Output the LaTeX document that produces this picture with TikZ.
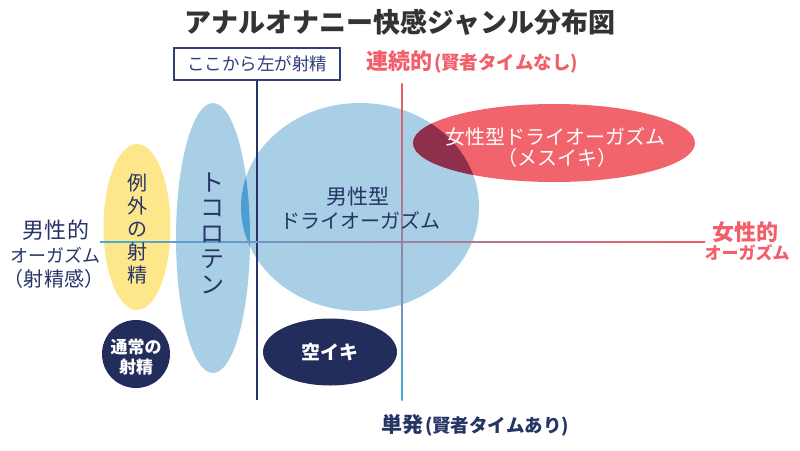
\documentclass[tikz,border=0pt]{standalone}
\usepackage{fontspec}
\setmainfont{Noto Sans CJK JP}
\usetikzlibrary{shapes.geometric}
\definecolor{navy}{HTML}{263466}
\definecolor{boxnavy}{HTML}{2E3D7C}
\definecolor{darknavy}{HTML}{232D5C}
\definecolor{ttlgray}{HTML}{333333}
\definecolor{yel}{HTML}{FDE78A}
\definecolor{lblue}{HTML}{A8CFE5}
\definecolor{blueov}{HTML}{4C9FD0}
\definecolor{redell}{HTML}{F1646C}
\definecolor{redov}{HTML}{8E2F4C}
\definecolor{redtxt}{HTML}{F25E6A}
\definecolor{lineblue}{HTML}{42ADE2}
\definecolor{linered}{HTML}{EE5A66}
\tikzset{
  blob/.style={ellipse, inner sep=0pt, outer sep=0pt},
  lbl/.style={inner sep=0pt, outer sep=0pt, align=center},
}
\newcommand{\fs}[1]{\fontsize{#1}{#1}\selectfont}
\newcommand{\pl}{\hspace{2pt}(}
\newcommand{\pr}{)\hspace{2pt}}
\begin{document}
\begin{tikzpicture}[x=1pt,y=-1pt]
\useasboundingbox (0,0) rectangle (800,450);
\fill[white] (0,0) rectangle (800,450);

% shapes
\node[blob, fill=lblue, minimum width=74pt, minimum height=270pt] (toko) at (213,238) {};
\node[blob, fill=lblue, minimum width=238pt, minimum height=208pt] (male) at (360,207) {};
\begin{scope}
  \clip (213,238) ellipse (37 and 135);
  \fill[blueov] (360,207) ellipse (119 and 104);
\end{scope}
\node[blob, fill=yel, minimum width=67pt, minimum height=166pt] (rei) at (137,227) {};
\node[blob, fill=redell, minimum width=282pt, minimum height=78pt] (female) at (554,143) {};
\begin{scope}
  \clip (554,143) ellipse (141 and 39);
  \fill[redov] (360,207) ellipse (119 and 104);
\end{scope}
\node[circle, fill=darknavy, minimum size=68pt, inner sep=0pt] (tsujo) at (136,354) {};
\node[blob, fill=darknavy, minimum width=134pt, minimum height=67pt] (kara) at (330,352) {};

% title and box
\node[lbl, font=\fs{27}\bfseries, text=ttlgray] (title) at (400,22) {アナルオナニー快感ジャンル分布図};
\node[draw=boxnavy, line width=1.5pt, minimum width=166pt, minimum height=32pt, inner sep=0pt, text=boxnavy, font=\fs{17.5}] (box) at (257,64) {ここから左が射精};

% axes
\coordinate (vbot) at (257,400);
\draw[navy, line width=1.3pt] (box.south) -- (vbot);
\coordinate (rtop) at (402,83);
\coordinate (rbot) at (402,400);
\shade[top color=linered, bottom color=lineblue] ([xshift=-0.65pt]rtop) rectangle ([xshift=0.65pt]rbot);
\coordinate (hl) at (100,242);
\coordinate (hr) at (705,242);
\shade[left color=lineblue, right color=linered] ([yshift=0.65pt]hl) rectangle ([yshift=-0.65pt]hr);

% axis labels
\node[lbl, text=redtxt, font=\bfseries] (cont) at (473,62) {{\fs{22}連続的}{\fs{18.5}\pl 賢者タイムなし\pr}};
\node[lbl, text=navy, font=\bfseries] (single) at (476,425) {{\fs{21}単発}{\fs{18.5}\pl 賢者タイムあり\pr}};
\node[lbl, text=navy, font=\fs{22}] (m1) at (56,230) {男性的};
\node[lbl, text=navy, font=\fs{18}] (m2) at (55,255) {オーガズム};
\node[lbl, text=navy, font=\fs{20}] (m3) at (54,279) {（射精感）};
\node[lbl, text=redtxt, font=\fs{22}\bfseries] (f1) at (745,232) {女性的};
\node[lbl, text=redtxt, font=\fs{17}\bfseries] (f2) at (747,253) {オーガズム};

% shape labels
\node[lbl, text=white, font=\fs{20}] (ftxt1) at (555,137) {女性型ドライオーガズム};
\node[lbl, text=white, font=\fs{20}] (ftxt2) at (557,158) {（メスイキ）};
\node[lbl, text=navy, font=\fs{21}] (mtxt1) at (358,197) {男性型};
\node[lbl, text=navy, font=\fs{20}] (mtxt2) at (360,220) {ドライオーガズム};
\node[lbl, text=white, font=\fs{19}\bfseries] (ktxt) at (330,352) {空イキ};
\node[lbl, text=white, font=\bfseries\fontsize{17}{20}\selectfont] (ttxt) at (136,357) {通常の\\射精};
\node[lbl, text=navy, font=\fontsize{20}{23}\selectfont] (rtxt) at (137,229) {例\\外\\の\\射\\精};
\node[lbl, text=navy, font=\fontsize{24}{25.5}\selectfont] (totxt) at (212,233) {ト\\コ\\ロ\\テ\\ン};
\end{tikzpicture}
\end{document}
